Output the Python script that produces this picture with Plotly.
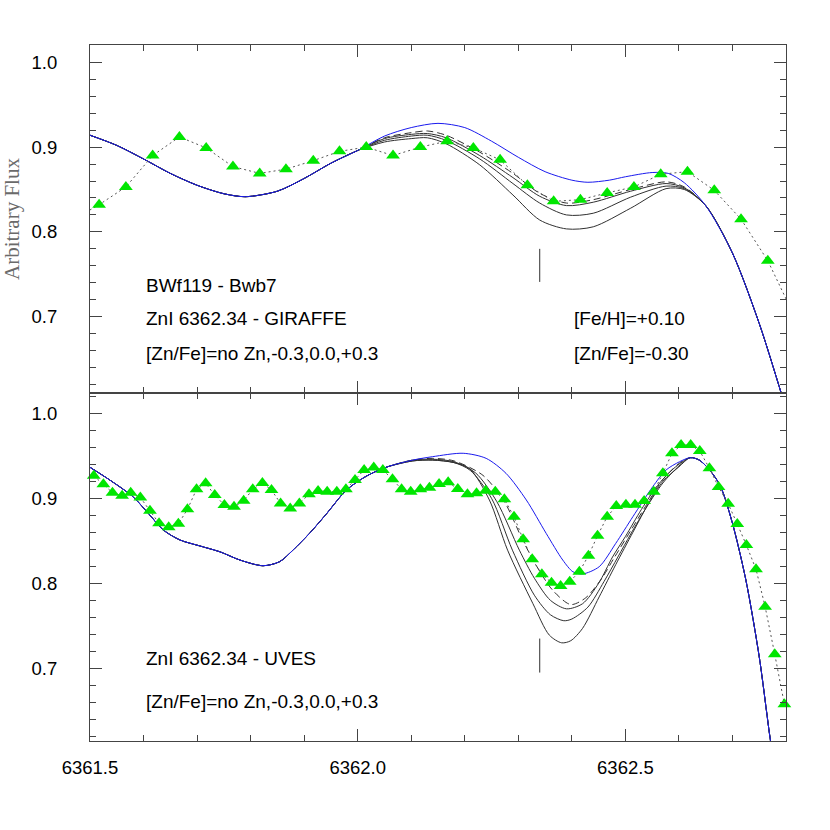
import plotly.graph_objects as go

# ---------------- data ----------------
X_RANGE = [6361.5, 6362.8]
TOP_Y_RANGE = [0.61, 1.0204]
BOT_Y_RANGE = [0.6145, 1.0239]

# Top panel (GIRAFFE) observed spectrum
TOP_OBS_X = [6361.467, 6361.517, 6361.567, 6361.617, 6361.667, 6361.717, 6361.767,
             6361.817, 6361.866, 6361.917, 6361.966, 6362.016, 6362.066, 6362.117,
             6362.167, 6362.216, 6362.266, 6362.317, 6362.366, 6362.416, 6362.466,
             6362.516, 6362.566, 6362.616, 6362.666, 6362.716, 6362.766, 6362.816]
TOP_OBS_Y = [0.814, 0.832, 0.853, 0.890, 0.912, 0.899, 0.877,
             0.869, 0.874, 0.884, 0.895, 0.900, 0.890, 0.900,
             0.907, 0.899, 0.885, 0.855, 0.836, 0.838, 0.846,
             0.853, 0.868, 0.871, 0.849, 0.815, 0.766, 0.700]

# Top panel synthetic spectra: region where all models coincide
TOP_SHARED_LEFT_X = [6361.50, 6361.55, 6361.60, 6361.65, 6361.70, 6361.75, 6361.79,
                     6361.85, 6361.90, 6361.95, 6362.00]
TOP_SHARED_LEFT_Y = [0.914, 0.902, 0.886, 0.869, 0.855, 0.845, 0.8415,
                     0.848, 0.863, 0.881, 0.896]
TOP_SHARED_RIGHT_X = [6362.65, 6362.70, 6362.75, 6362.79, 6362.81]
TOP_SHARED_RIGHT_Y = [0.831, 0.775, 0.692, 0.612, 0.570]

# no Zn (blue)
TOP_NOZN_MID_X = [6362.05, 6362.10, 6362.15, 6362.20, 6362.25, 6362.30, 6362.35,
                  6362.40, 6362.43, 6362.47, 6362.50, 6362.55, 6362.58, 6362.61]
TOP_NOZN_MID_Y = [0.913, 0.923, 0.928, 0.923, 0.907, 0.888, 0.871,
                  0.861, 0.8585, 0.861, 0.865, 0.870, 0.869, 0.858]

# Zn models (black)
TOP_ZN_MID_X = [6362.05, 6362.10, 6362.13, 6362.165, 6362.228, 6362.29, 6362.34,
                6362.39, 6362.44, 6362.51, 6362.576, 6362.61]
TOP_BEST_MID_Y = [0.911, 0.917, 0.919, 0.914, 0.894, 0.869, 0.8455,
                  0.834, 0.838, 0.850, 0.859, 0.853]
TOP_M03_MID_Y = [0.910, 0.915, 0.916, 0.911, 0.890, 0.864, 0.842,
                 0.831, 0.835, 0.848, 0.857, 0.852]
TOP_000_MID_Y = [0.908, 0.913, 0.914, 0.908, 0.886, 0.857, 0.834,
                 0.820, 0.822, 0.841, 0.854, 0.851]
TOP_P03_MID_Y = [0.906, 0.910, 0.911, 0.904, 0.879, 0.8435, 0.814,
                 0.8035, 0.806, 0.828, 0.851, 0.850]

# Bottom panel (UVES) observed spectrum
BOT_OBS_X = [6361.507, 6361.525, 6361.542, 6361.560, 6361.576, 6361.594, 6361.612,
             6361.629, 6361.647, 6361.665, 6361.682, 6361.699, 6361.716, 6361.733,
             6361.751, 6361.769, 6361.787, 6361.804, 6361.822, 6361.839, 6361.856,
             6361.874, 6361.891, 6361.909, 6361.926, 6361.943, 6361.961, 6361.978,
             6361.995, 6362.012, 6362.030, 6362.047, 6362.065, 6362.082, 6362.099,
             6362.117, 6362.134, 6362.152, 6362.169, 6362.187, 6362.205, 6362.222,
             6362.239, 6362.257, 6362.274, 6362.292, 6362.309, 6362.326, 6362.344,
             6362.362, 6362.379, 6362.396, 6362.414, 6362.431, 6362.448, 6362.466,
             6362.483, 6362.501, 6362.518, 6362.535, 6362.553, 6362.570, 6362.587,
             6362.604, 6362.622, 6362.639, 6362.657, 6362.674, 6362.692, 6362.709,
             6362.726, 6362.744, 6362.761, 6362.779, 6362.797]
BOT_OBS_Y = [0.9266, 0.9165, 0.9066, 0.903, 0.9066, 0.901, 0.8854,
             0.8706, 0.866, 0.870, 0.887, 0.9106, 0.9176, 0.904,
             0.892, 0.890, 0.897, 0.9106, 0.918, 0.9098, 0.894,
             0.888, 0.894, 0.9047, 0.9086, 0.9078, 0.9078, 0.9106,
             0.9215, 0.9333, 0.9364, 0.9333, 0.9224, 0.9106, 0.9078,
             0.9106, 0.9125, 0.9168, 0.9188, 0.911, 0.9047, 0.906,
             0.909, 0.9078, 0.8988, 0.8784, 0.8518, 0.8282, 0.8106,
             0.8007, 0.7968, 0.8019, 0.8136, 0.8325, 0.856, 0.8784,
             0.8909, 0.8925, 0.8925, 0.8968, 0.9078, 0.9294, 0.9529,
             0.9627, 0.9627, 0.9556, 0.9353, 0.9133, 0.8936, 0.8698,
             0.845, 0.8165, 0.7725, 0.7165, 0.6576]

BOT_SHARED_LEFT_X = [6361.500, 6361.537, 6361.580, 6361.610, 6361.637, 6361.668, 6361.705,
                     6361.743, 6361.780, 6361.823, 6361.854, 6361.879, 6361.910, 6361.942,
                     6361.979, 6362.016, 6362.053]
BOT_SHARED_LEFT_Y = [0.9365, 0.9215, 0.902, 0.8815, 0.8627, 0.851, 0.844,
                     0.837, 0.8274, 0.8207, 0.8254, 0.839, 0.8588, 0.882,
                     0.9098, 0.926, 0.9365]
BOT_SHARED_RIGHT_X = [6362.621, 6362.638, 6362.660, 6362.678, 6362.700, 6362.725,
                      6362.750, 6362.771, 6362.790]
BOT_SHARED_RIGHT_Y = [0.9478, 0.945, 0.9313, 0.9136, 0.8706, 0.804,
                      0.7136, 0.6148, 0.540]

BOT_NOZN_MID_X = [6362.103, 6362.140, 6362.197, 6362.240, 6362.277, 6362.315, 6362.352,
                  6362.383, 6362.402, 6362.420, 6362.451, 6362.482, 6362.514, 6362.551,
                  6362.576, 6362.601]
BOT_NOZN_MID_Y = [0.945, 0.949, 0.953, 0.947, 0.9294, 0.898, 0.8588,
                  0.8274, 0.8136, 0.811, 0.8195, 0.847, 0.8784, 0.9136,
                  0.9333, 0.943]

BOT_BEST_MID_X = [6362.103, 6362.140, 6362.180, 6362.234, 6362.274, 6362.308, 6362.333,
                  6362.364, 6362.398, 6362.426, 6362.455, 6362.480, 6362.510, 6362.540,
                  6362.570, 6362.600]
BOT_BEST_MID_Y = [0.945, 0.947, 0.944, 0.927, 0.896, 0.851, 0.8215,
                  0.792, 0.775, 0.783, 0.805, 0.831, 0.862, 0.893,
                  0.922, 0.941]

BOT_M03_MID_X = [6362.103, 6362.140, 6362.180, 6362.220, 6362.260, 6362.302, 6362.330,
                 6362.360, 6362.390, 6362.420, 6362.450, 6362.476, 6362.500, 6362.530,
                 6362.560, 6362.590]
BOT_M03_MID_Y = [0.945, 0.946, 0.943, 0.930, 0.896, 0.839, 0.806,
                 0.780, 0.770, 0.776, 0.800, 0.831, 0.855, 0.887,
                 0.915, 0.935]

BOT_000_MID_X = [6362.103, 6362.140, 6362.180, 6362.210, 6362.250, 6362.289, 6362.330,
                 6362.360, 6362.385, 6362.400, 6362.430, 6362.460, 6362.486, 6362.510,
                 6362.540, 6362.570, 6362.600]
BOT_000_MID_Y = [0.944, 0.945, 0.942, 0.933, 0.900, 0.839, 0.786,
                 0.763, 0.756, 0.758, 0.772, 0.802, 0.831, 0.858,
                 0.890, 0.918, 0.938]

BOT_P03_MID_X = [6362.103, 6362.140, 6362.180, 6362.209, 6362.246, 6362.280, 6362.327,
                 6362.358, 6362.381, 6362.398, 6362.420, 6362.451, 6362.482, 6362.514,
                 6362.545, 6362.570, 6362.600]
BOT_P03_MID_Y = [0.944, 0.945, 0.942, 0.935, 0.898, 0.839, 0.7765,
                 0.739, 0.730, 0.7325, 0.747, 0.784, 0.822, 0.860,
                 0.896, 0.920, 0.937]

# ZnI line position marks
LINE_X = [6362.34, 6362.34]
TOP_MARK_Y = [0.741, 0.780]
BOT_MARK_Y = [0.695, 0.735]

# ---------------- figure ----------------
GREEN = "#00e600"
BLUE = "#1a1aee"
BLACK = "#303030"
AX = "#444444"

fig = go.Figure()


def add(x, y, panel, **kw):
    fig.add_trace(go.Scatter(
        x=x, y=y,
        xaxis="x" if panel == 1 else "x2",
        yaxis="y" if panel == 1 else "y2",
        showlegend=False, hoverinfo="skip", **kw))


def model(left_x, left_y, mid_x, mid_y, right_x, right_y):
    return left_x + mid_x + right_x, left_y + mid_y + right_y


spl = dict(shape="spline", smoothing=0.8)

# top panel
for ys, dash in [(TOP_P03_MID_Y, "solid"), (TOP_000_MID_Y, "solid"),
                 (TOP_M03_MID_Y, "solid"), (TOP_BEST_MID_Y, "7px,4px")]:
    xx, yy = model(TOP_SHARED_LEFT_X, TOP_SHARED_LEFT_Y, TOP_ZN_MID_X, ys,
                   TOP_SHARED_RIGHT_X, TOP_SHARED_RIGHT_Y)
    add(xx, yy, 1, mode="lines", line=dict(color=BLACK, width=1, dash=dash, **spl))
xx, yy = model(TOP_SHARED_LEFT_X, TOP_SHARED_LEFT_Y, TOP_NOZN_MID_X, TOP_NOZN_MID_Y,
               TOP_SHARED_RIGHT_X, TOP_SHARED_RIGHT_Y)
add(xx, yy, 1, mode="lines", line=dict(color=BLUE, width=1, **spl))
add(TOP_OBS_X, TOP_OBS_Y, 1, mode="lines+markers",
    line=dict(color="#555555", width=1, dash="2px,3px"),
    marker=dict(symbol="triangle-up", size=12, color=GREEN))
add(LINE_X, TOP_MARK_Y, 1, mode="lines", line=dict(color=BLACK, width=1))

# bottom panel
for mx, my, dash in [(BOT_P03_MID_X, BOT_P03_MID_Y, "solid"),
                     (BOT_000_MID_X, BOT_000_MID_Y, "solid"),
                     (BOT_M03_MID_X, BOT_M03_MID_Y, "solid"),
                     (BOT_BEST_MID_X, BOT_BEST_MID_Y, "7px,4px")]:
    xx, yy = model(BOT_SHARED_LEFT_X, BOT_SHARED_LEFT_Y, mx, my,
                   BOT_SHARED_RIGHT_X, BOT_SHARED_RIGHT_Y)
    add(xx, yy, 2, mode="lines", line=dict(color=BLACK, width=1, dash=dash, **spl))
xx, yy = model(BOT_SHARED_LEFT_X, BOT_SHARED_LEFT_Y, BOT_NOZN_MID_X, BOT_NOZN_MID_Y,
               BOT_SHARED_RIGHT_X, BOT_SHARED_RIGHT_Y)
add(xx, yy, 2, mode="lines", line=dict(color=BLUE, width=1, **spl))
add(BOT_OBS_X, BOT_OBS_Y, 2, mode="lines+markers", cliponaxis=False,
    line=dict(color="#555555", width=1, dash="2px,3px"),
    marker=dict(symbol="triangle-up", size=12, color=GREEN))
add(LINE_X, BOT_MARK_Y, 2, mode="lines", line=dict(color=BLACK, width=1))

TICKFONT = dict(family="Liberation Sans, Arial, sans-serif", size=18.5, color="black")

xcommon = dict(range=X_RANGE, showline=True, linecolor=AX, linewidth=1, mirror="ticks",
               ticks="inside", ticklen=12, tickcolor=AX, tickwidth=1, automargin=False,
               tickmode="linear", tick0=6361.5, dtick=0.5, tickformat=".1f",
               showgrid=False, zeroline=False, tickfont=TICKFONT,
               minor=dict(ticks="inside", ticklen=6, tickcolor=AX, dtick=0.1,
                          tick0=6361.5, showgrid=False))
ycommon = dict(showline=True, linecolor=AX, linewidth=1, mirror="ticks",
               ticks="inside", ticklen=12, tickcolor=AX, tickwidth=1, automargin=False,
               tickmode="linear", tick0=0.7, dtick=0.1, tickformat=".1f",
               showgrid=False, zeroline=False, tickfont=TICKFONT, ticklabelstandoff=28,
               minor=dict(ticks="inside", ticklen=6, tickcolor=AX, dtick=0.02,
                          tick0=0.6, showgrid=False))

TXT = dict(family="Liberation Sans, Arial, sans-serif", size=19, color="black")


def note(text, x, y, yref):
    return dict(text=text, x=x, y=y, xref="x", yref=yref, xanchor="left",
                yanchor="middle", showarrow=False, font=TXT)


fig.update_layout(
    width=830, height=830,
    margin=dict(l=90, r=44, t=45, b=89),
    paper_bgcolor="white", plot_bgcolor="white",
    xaxis=dict(xcommon, anchor="y", domain=[0, 1], showticklabels=False),
    xaxis2=dict(xcommon, anchor="y2", domain=[0, 1], ticklabelstandoff=10),
    yaxis=dict(ycommon, anchor="x", domain=[0.5, 1], range=TOP_Y_RANGE),
    yaxis2=dict(ycommon, anchor="x2", domain=[0, 0.5], range=BOT_Y_RANGE),
    annotations=[
        note("BWf119 - Bwb7", 6361.6, 0.737, "y"),
        note("ZnI 6362.34 - GIRAFFE", 6361.6, 0.698, "y"),
        note("[Zn/Fe]=no Zn,-0.3,0.0,+0.3", 6361.6, 0.657, "y"),
        note("[Fe/H]=+0.10", 6362.4, 0.698, "y"),
        note("[Zn/Fe]=-0.30", 6362.4, 0.657, "y"),
        note("ZnI 6362.34 - UVES", 6361.6, 0.712, "y2"),
        note("[Zn/Fe]=no Zn,-0.3,0.0,+0.3", 6361.6, 0.6615, "y2"),
        dict(text="Arbitrary Flux", xref="paper", yref="paper",
             x=(12 - 90) / 696, y=0.75, xanchor="center", yanchor="middle",
             textangle=-90, showarrow=False,
             font=dict(family="Liberation Serif, DejaVu Serif, serif", size=21,
                       color="#6a6a6a")),
    ],
)

# remove the default 8px page margin so the 830x830 figure fills the window exactly
fig.write_html("out.html",
               config={"displayModeBar": False, "staticPlot": True},
               post_script="document.body.style.margin='0';"
                           "document.body.style.overflow='hidden';")
